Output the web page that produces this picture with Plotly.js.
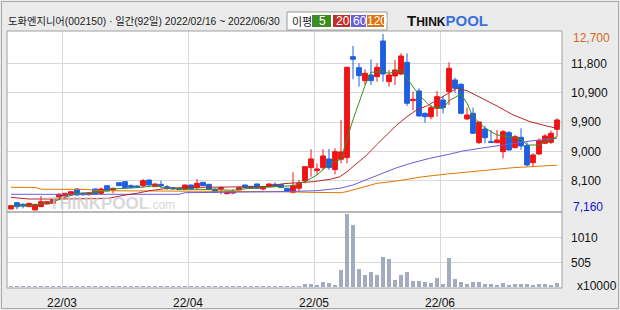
<!DOCTYPE html>
<html><head><meta charset="utf-8">
<script src="https://cdn.plot.ly/plotly-3.0.1.min.js"></script>
<style>
html,body{margin:0;padding:0;background:#ebebeb;}
#wrap{position:relative;width:620px;height:310px;overflow:hidden;}
#chart{width:620px;height:310px;}
#frame{position:absolute;left:1px;top:1px;width:616px;height:306px;border:1px solid #a8a8a8;pointer-events:none;}
</style>
</head><body>
<div id="wrap"><div id="chart"></div><div id="frame"></div></div>
<script>
// ---- data ----
const dates = [
'02/16','02/17','02/18','02/21','02/22','02/23','02/24','02/25','02/28',
'03/02','03/03','03/04','03/07','03/08','03/10','03/11','03/14','03/15','03/16','03/17','03/18','03/21','03/22','03/23','03/24','03/25','03/28','03/29','03/30','03/31',
'04/01','04/04','04/05','04/06','04/07','04/08','04/11','04/12','04/13','04/14','04/15','04/18','04/19','04/20','04/21','04/22','04/25','04/26','04/27','04/28','04/29',
'05/02','05/03','05/04','05/06','05/09','05/10','05/11','05/12','05/13','05/16','05/17','05/18','05/19','05/20','05/23','05/24','05/25','05/26','05/27','05/30','05/31',
'06/02','06/03','06/07','06/08','06/09','06/10','06/13','06/14','06/15','06/16','06/17','06/20','06/21','06/22','06/23','06/24','06/27','06/28','06/29','06/30'];

const openP = [7192,7391,7338,7265,7160,7265,7349,7370,7527,7601,7632,7821,7680,7640,7821,7685,7926,7790,8020,8052,
7926,7915,7926,8104,7895,7968,7895,7863,7842,7811,7947,7863,8031,7968,7821,7821,7674,7695,7790,7947,
7905,7979,7821,7895,7968,7969,7844,7718,7844,8074,8494,8400,8494,8767,8431,8756,8809,11987,11641,11232,
11410,11358,12480,11200,11379,11442,11809,10602,10907,10204,10099,10361,10623,10886,11253,11116,10026,10204,9281,9711,
9312,9281,8997,9595,9123,9448,9186,8651,8924,9260,9291,9700];
const highP = [7320,7400,7370,7380,7350,7601,7440,7510,7685,7700,7750,7830,7700,7700,7830,7863,7940,7863,8030,8060,
7968,7935,8136,8115,7990,8084,7947,7875,7850,7960,7955,8136,8040,7979,7830,7895,7758,7811,7874,7958,
7915,7990,7926,7990,8031,7980,7855,8347,8106,8525,9071,8630,9071,9081,9102,9994,11672,12323,11777,11588,
11903,11777,12700,11568,11882,12092,12092,10886,10991,10225,10466,10907,10749,11809,11326,11148,10382,10382,9931,9805,
9679,9679,9679,9648,9522,9732,9291,8945,9417,9553,9658,10046];
const lowP = [7180,7180,7213,7255,7160,7255,7340,7360,7475,7590,7620,7620,7620,7630,7640,7632,7750,7685,7915,7850,
7842,7870,7863,7940,7885,7842,7790,7810,7800,7800,7811,7821,7915,7800,7705,7653,7653,7653,7780,7853,
7832,7832,7779,7885,7884,7855,7730,7686,7739,8001,8211,8263,8421,8421,8284,8630,8630,11274,11043,11095,
11095,11200,11200,11043,11095,11410,10435,10309,10099,9910,10015,10099,10204,10466,10854,10172,9994,9553,9239,9260,
9281,9260,8788,9029,9102,9050,8525,8525,8893,9239,9239,9469];
const closeP = [7297,7265,7286,7370,7338,7422,7422,7496,7653,7685,7737,7632,7640,7690,7653,7821,7758,7842,7926,7863,
7874,7884,8084,7947,7979,7926,7842,7821,7811,7947,7821,8000,7926,7811,7716,7863,7737,7737,7863,7863,
7842,7842,7895,7979,7905,7865,7739,7927,8001,8525,8767,8452,8861,8494,8997,8987,11651,11903,11389,11463,
11232,11651,11442,11410,11568,12008,10519,10644,10120,10099,10382,10728,10382,11620,10991,10204,10151,9574,9931,9438,
9291,9365,9627,9050,9469,9176,8578,8893,9344,9490,9574,9994];
// volume, unit 10,000 shares
const volume = [24,22,20,25,28,26,22,24,26,25,23,27,22,24,25,22,26,24,28,25,
23,22,27,25,22,24,21,20,22,26,24,27,23,22,25,24,22,21,24,23,
22,24,25,23,22,24,22,26,26,67,67,46,113,93,46,349,1481,1265,370,248,
315,248,612,572,147,248,315,127,127,113,93,188,67,592,168,113,67,113,113,67,
67,46,87,46,67,67,67,46,67,67,46,87];

// moving averages (day index, value)
const ma5Day  = [0,3,7,9,11,15,17,21,24,26,29,34,37,40,45,47,49,51,53,55,56,57,59,60,62,63,65,66,67,68,70,72,73,75,76,77,79,81,83,85,86,88,89,91];
const ma5     = [7286,7290,7421,7547,7685,7736,7821,7862,7925,7850,7820,7800,7780,7850,7893,7925,8052,8262,8600,8760,9400,10000,11079,11495,11515,11463,11567,11306,11064,10780,10412,10350,10600,10812,10518,10097,9732,9521,9468,9385,9206,9206,9311,9468];
const ma20Day = [0,3,8,14,16,19,21,23,26,29,35,40,43,45.5,48.2,50.4,53.2,54.8,56,57.6,59.3,60.9,62.6,64.3,66,67.6,69.3,71,72.6,74.3,76,78.2,81,83.7,86.5,89.3,91];
const ma20    = [7558,7506,7506,7506,7520,7630,7685,7765,7840,7868,7877,7880,7900,7990,8021,8052,8126,8208,8366,8630,8891,9206,9521,9836,10097,10308,10434,10623,10812,10990,10916,10707,10434,10151,9940,9804,9732];
const ma60Day = [0,28,29,44,45,51,54.8,57,59.3,61.5,64.3,67,69.8,72.7,75.3,78.2,81,83.7,87,91];
const ma60    = [7654,7654,7705,7720,7736,7768,7843,7947,8126,8293,8492,8649,8787,8901,9017,9102,9175,9260,9342,9417];
const ma120Day = [0,4,5,13,14,28,29,45,50,55,56,57,61,64.3,68.7,72.7,78.2,83.7,90.7,91];
const ma120    = [7875,7870,7815,7805,7768,7760,7740,7736,7715,7705,7740,7790,8000,8073,8208,8293,8388,8492,8567,8570];

const priceHigh = 12700, priceLow = 7160;
const priceTickText = ['8,100','9,000','9,900','10,900','11,800'];
const volTickVals = [505, 1010];
const volTickText = ['505','1010'];
const maNames = ['5','20','60','120'];
const titleText = '도화엔지니어(002150) · 일간(92일) 2022/02/16 ~ 2022/06/30';

// ---- build ----
const days = dates.map((d, i) => i);
const monthTicks = [], monthText = [];
dates.forEach((d, i) => {
  if (i > 0 && d.slice(0, 2) !== dates[i - 1].slice(0, 2)) {
    monthTicks.push(i - 0.5); monthText.push('22/' + d.slice(0, 2));
  }
});
const step = (priceHigh - priceLow) / 6;
const priceGrid = [1, 2, 3, 4, 5].map(k => priceLow + k * step);
const perPx = (priceHigh - priceLow) / 176;

const W = 620, H = 310, L = 7, R = 58, T = 31, B = 22;
const PX = px => (px - L) / (W - L - R);
const PY = py => (H - B - py) / (H - T - B);
const split = PY(212);

const C = {ma5:'#3c8c22', ma20:'#b42a28', ma60:'#6a5ed8', ma120:'#e07800', up:'#f01414', down:'#1e5fe0', vol:'#a2abc0'};

const traces = [
  {type:'scatter', mode:'lines', x:ma120Day, y:ma120, line:{color:C.ma120, width:1}, hoverinfo:'skip'},
  {type:'scatter', mode:'lines', x:ma60Day, y:ma60, line:{color:C.ma60, width:1}, hoverinfo:'skip'},
  {type:'scatter', mode:'lines', x:ma20Day, y:ma20, line:{color:C.ma20, width:1}, hoverinfo:'skip'},
  {type:'scatter', mode:'lines', x:ma5Day, y:ma5, line:{color:C.ma5, width:1}, hoverinfo:'skip'},
  {type:'candlestick', x:days, open:openP, high:highP, low:lowP, close:closeP,
   increasing:{line:{color:C.up, width:1}, fillcolor:C.up},
   decreasing:{line:{color:C.down, width:1}, fillcolor:C.down},
   whiskerwidth:0, hoverinfo:'skip'},
  {type:'bar', x:days, y:volume, yaxis:'y2', marker:{color:C.vol, line:{width:0}}, width:0.8, hoverinfo:'skip'}
];

const tickFont = {family:'Liberation Sans, Arial, sans-serif', size:12, color:'#111'};
const boxColors = [C.ma5, '#c0302a', C.ma60, '#dd7411'];
const boxX = [[312,331],[333,350],[351,366],[367,384]];

const shapes = [
  {type:'rect', xref:'paper', yref:'paper', x0:0, x1:1, y0:split, y1:1, line:{color:'#a0a0a0', width:1}, layer:'above'},
  {type:'rect', xref:'paper', yref:'paper', x0:0, x1:1, y0:0, y1:split, line:{color:'#a0a0a0', width:1}, layer:'above'},
  {type:'rect', xref:'paper', yref:'paper', x0:PX(287), x1:PX(387), y0:PY(30), y1:PY(12), fillcolor:'#ffffff', line:{color:'#9a9a9a', width:1}}
];
const annotations = [
  {xref:'paper', yref:'paper', x:PX(6), y:PY(22), xanchor:'left', yanchor:'middle', showarrow:false,
   text:titleText, font:{family:'Liberation Sans, Noto Sans CJK KR', size:10.3, color:'#1a1a1a'}},
  {xref:'paper', yref:'paper', x:PX(290), y:PY(21), xanchor:'left', yanchor:'middle', showarrow:false,
   text:'이평', font:{family:'Noto Sans CJK KR', size:11, color:'#222'}},
  {xref:'paper', yref:'paper', x:PX(405), y:PY(21), xanchor:'left', yanchor:'middle', showarrow:false,
   text:'<b>T</b><b><span style="font-size:12px">HINK</span></b><b><span style="color:#3a72dc">POOL</span></b>',
   font:{family:'Liberation Sans, Arial', size:15, color:'#111'}},
  {xref:'paper', yref:'paper', x:PX(47), y:PY(203), xanchor:'left', yanchor:'middle', showarrow:false,
   text:'<b>THINKPOOL</b><span style="font-size:12px">.com</span>',
   font:{family:'Liberation Sans, Arial', size:17, color:'#cdcdcd'}, opacity:0.75},
  {xref:'paper', yref:'paper', x:PX(571), y:PY(38), xanchor:'left', yanchor:'middle', showarrow:false,
   text:'12,700', font:{family:'Liberation Sans, Arial', size:12, color:'#d2691e'}},
  {xref:'paper', yref:'paper', x:PX(571), y:PY(207), xanchor:'left', yanchor:'middle', showarrow:false,
   text:'7,160', font:{family:'Liberation Sans, Arial', size:12, color:'#1414c8'}},
  {xref:'paper', yref:'paper', x:PX(575), y:PY(286), xanchor:'left', yanchor:'middle', showarrow:false,
   text:'x10000', font:{family:'Liberation Sans, Arial', size:12, color:'#111'}}
];
maNames.forEach((n, k) => {
  shapes.push({type:'rect', xref:'paper', yref:'paper', x0:PX(boxX[k][0]), x1:PX(boxX[k][1]), y0:PY(27), y1:PY(15), fillcolor:boxColors[k], line:{width:0}});
  annotations.push({xref:'paper', yref:'paper', x:PX((boxX[k][0] + boxX[k][1]) / 2 + 1), y:PY(21), xanchor:'center', yanchor:'middle', showarrow:false,
    text:n, font:{family:'Liberation Sans, Arial', size:12, color:'#ffffff'}});
});

const layout = {
  width:W, height:H, margin:{l:L, r:R, t:T, b:B, pad:0},
  paper_bgcolor:'#ebebeb', plot_bgcolor:'#ffffff', showlegend:false,
  boxgap:0.2, boxgroupgap:0, bargap:0,
  xaxis:{range:[-0.667, 91.833], anchor:'y2', tickvals:monthTicks, ticktext:monthText, showgrid:true, gridcolor:'#d8d8d8', gridwidth:1,
         zeroline:false, showline:false, ticks:'', tickfont:tickFont, rangeslider:{visible:false}, fixedrange:true, ticklabelstandoff:6},
  yaxis:{domain:[split, 1], range:[priceLow - 2 * perPx, priceHigh + 3 * perPx], side:'right', tickvals:priceGrid, ticktext:priceTickText,
         showgrid:true, gridcolor:'#d8d8d8', zeroline:false, showline:false, ticks:'', tickfont:tickFont, ticklabelstandoff:8, fixedrange:true},
  yaxis2:{domain:[0, split], range:[-14, 1521], side:'right', tickvals:volTickVals, ticktext:volTickText,
          showgrid:true, gridcolor:'#d8d8d8', zeroline:false, showline:false, ticks:'', tickfont:tickFont, ticklabelstandoff:8, fixedrange:true},
  shapes:shapes, annotations:annotations
};
Plotly.newPlot('chart', traces, layout, {displayModeBar:false, staticPlot:true});
</script>
</body></html>
